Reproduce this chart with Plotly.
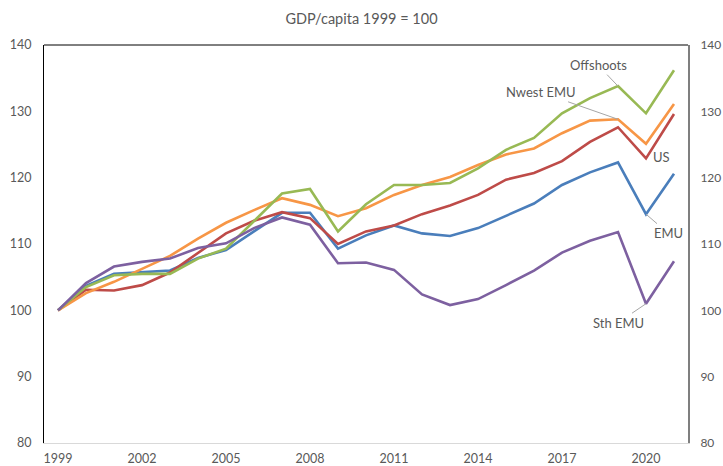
import plotly.graph_objects as go

years = list(range(1999, 2022))

emu = [100, 103.7, 105.5, 105.8, 106.0, 107.9, 109.1, 111.9, 114.7, 114.7, 109.3, 111.3,
       112.8, 111.6, 111.2, 112.4, 114.3, 116.1, 118.9, 120.8, 122.3, 114.5, 120.6]
us = [100, 103.1, 103.0, 103.8, 105.7, 108.7, 111.6, 113.5, 114.8, 113.9, 110.0, 111.9,
      112.8, 114.5, 115.8, 117.4, 119.7, 120.7, 122.5, 125.4, 127.6, 122.9, 129.6]
nwest = [100, 102.6, 104.3, 106.3, 108.2, 110.8, 113.2, 115.1, 116.9, 115.9, 114.2, 115.4,
         117.4, 118.9, 120.1, 121.9, 123.5, 124.4, 126.7, 128.6, 128.8, 125.1, 131.1]
offshoots = [100, 103.5, 105.3, 105.5, 105.5, 107.8, 109.3, 113.4, 117.6, 118.3, 111.9, 116.0,
             118.9, 118.9, 119.2, 121.4, 124.2, 126.0, 129.7, 132.0, 133.8, 129.7, 136.2]
sth = [100, 104.1, 106.6, 107.3, 107.8, 109.4, 110.1, 112.4, 114.0, 112.9, 107.1, 107.2,
       106.1, 102.4, 100.8, 101.7, 103.8, 106.0, 108.7, 110.5, 111.8, 101.0, 107.4]

series_names = ["EMU", "US", "Nwest EMU", "Offshoots", "Sth EMU"]
series_vals = [emu, us, nwest, offshoots, sth]
colors = ["#4A7EBB", "#BE4B48", "#F79646", "#98B954", "#7D60A0"]

x_ticks = [1999, 2002, 2005, 2008, 2011, 2014, 2017, 2020]
y_ticks = [80, 90, 100, 110, 120, 130, 140]

FONT = "Lato, 'Open Sans', sans-serif"
GRAY = "#595959"
TICK = dict(size=12.5, color=GRAY, family=FONT)
TICK_R = dict(size=12, color=GRAY, family=FONT)

fig = go.Figure()
for name, vals, c in zip(series_names, series_vals, colors):
    fig.add_trace(go.Scatter(x=years, y=vals, mode="lines", name=name,
                             line=dict(color=c, width=2.6), showlegend=False))
# invisible trace for the right axis
fig.add_trace(go.Scatter(x=[years[0]], y=[100], yaxis="y2", mode="markers",
                         marker=dict(opacity=0), showlegend=False, hoverinfo="skip"))

i19 = years.index(2019)
i20 = years.index(2020)
arrow = dict(showarrow=True, arrowhead=0, arrowwidth=1, arrowcolor="#A6A6A6",
             font=dict(size=13, color=GRAY, family=FONT))
fig.add_annotation(x=years[i19], y=offshoots[i19], text="Offshoots", ax=-20, ay=-21, **arrow)
fig.add_annotation(x=years[i19], y=nwest[i19], text="Nwest EMU", ax=-77, ay=-27, **arrow)
fig.add_annotation(x=years[i20], y=emu[i20], text="EMU", ax=22, ay=19, **arrow)
fig.add_annotation(x=years[i20], y=sth[i20], text="Sth EMU", ax=-28, ay=19, **arrow)
fig.add_annotation(x=years[i20], y=us[i20], text="US", showarrow=False, xshift=15, yshift=1,
                   font=dict(size=13, color=GRAY, family=FONT))

# top frame line
fig.add_shape(type="line", xref="paper", yref="paper", x0=0, x1=1, y0=1, y1=1,
              line=dict(color="black", width=1))

fig.update_layout(
    width=723, height=466,
    margin=dict(l=44, r=35, t=45, b=23),
    paper_bgcolor="white", plot_bgcolor="white",
    font=dict(family=FONT, size=13, color=GRAY),
    title=dict(text="GDP/capita 1999 = 100", x=0.5, xanchor="center", y=0.96, yanchor="middle",
               font=dict(size=14.5, color=GRAY, family=FONT)),
    xaxis=dict(range=[1998.5, 2021.5], tickvals=x_ticks, ticktext=[str(v) for v in x_ticks],
               showgrid=False, zeroline=False, showline=True, linecolor="#D9D9D9", linewidth=1,
               ticks="", tickfont=TICK, ticklabelstandoff=4, automargin=False),
    yaxis=dict(range=[80, 140], tickvals=y_ticks, showgrid=False, zeroline=False,
               showline=True, linecolor="black", linewidth=1, ticks="",
               tickfont=TICK, ticklabelstandoff=9, automargin=False),
    yaxis2=dict(range=[80, 140], tickvals=y_ticks, overlaying="y", side="right",
                showgrid=False, zeroline=False, showline=True, linecolor="#7F7F7F",
                linewidth=2, ticks="", tickfont=TICK_R, ticklabelstandoff=8,
                automargin=False),
)

fig.write_html("out.html", config={"displayModeBar": False},
               post_script="document.body.style.margin='0';document.body.style.overflow='hidden';")
